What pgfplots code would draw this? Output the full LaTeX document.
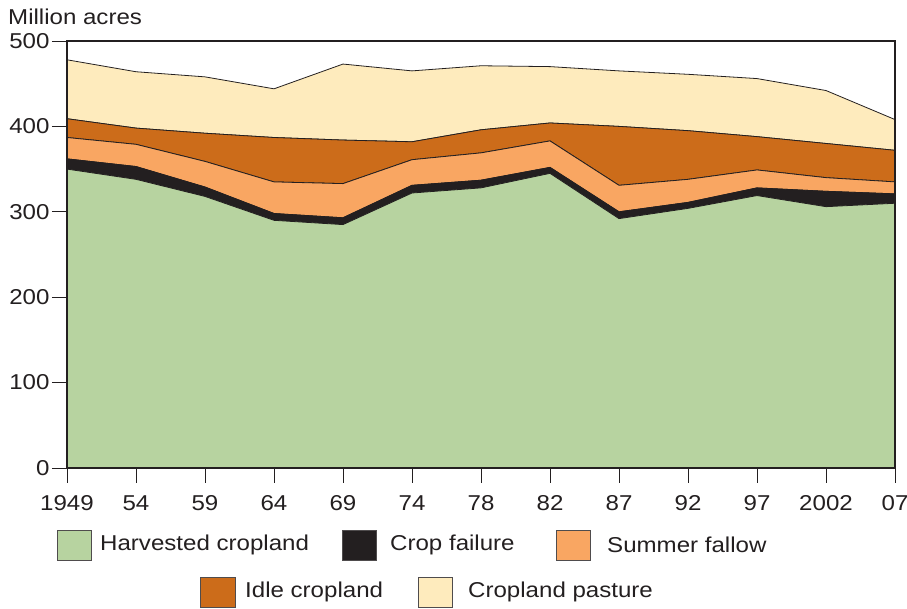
\documentclass[border=0pt]{standalone}
\usepackage{fontspec}
\setmainfont{Liberation Sans}[FakeStretch=1.12]
\usepackage{pgfplots}
\usepackage{pgfplotstable}
\pgfplotsset{compat=1.18}
\definecolor{harv}{HTML}{B7D3A0}
\definecolor{fail}{HTML}{231F20}
\definecolor{fallow}{HTML}{F9A662}
\definecolor{idle}{HTML}{CC6C1A}
\definecolor{past}{HTML}{FEEBBD}
\definecolor{axc}{HTML}{231F20}
\pgfplotstableread{
x H F S I P
0 350 12 25 22 69
1 338 15 26 19 66
2 318 11 30 33 66
3 290 8 37 52 57
4 285 8 40 51 89
5 322 9 30 21 83
6 328 9 32 27 75
7 345 7 31 21 66
8 292 8 31 69 65
9 304 7 27 57 66
10 319 9 21 39 68
11 306 18 16 40 62
12 310 11 14 37 36
}\data
\begin{document}
\begin{tikzpicture}[font=\fontsize{21.5}{25}\selectfont]
\useasboundingbox (-67pt,-141pt) rectangle (840pt,468pt);
\begin{axis}[
  at={(0pt,0pt)}, anchor=south west,
  scale only axis, width=828pt, height=427pt,
  xmin=0, xmax=12, ymin=0, ymax=500,
  stack plots=y,
  xtick={0,...,12},
  xticklabels={1949,54,59,64,69,74,78,82,87,92,97,2002,07},
  ytick={0,100,200,300,400,500},
  xtick pos=bottom, ytick pos=left,
  tick align=outside,
  major tick length=15pt,
  tick style={axc, line width=0.9pt},
  axis line style={axc, line width=2pt},
  axis on top,
  /pgf/number format/assume math mode=true,
  tick label style={font=\fontsize{21.5}{25}\selectfont, text=axc},
  yticklabel style={xshift=1pt},
  xticklabel style={yshift=-9pt},
]
\addplot[fill=harv, draw=axc, line width=0.8pt] table[x=x,y=H]{\data} \closedcycle;
\addplot[fill=fail, draw=axc, line width=0.8pt] table[x=x,y=F]{\data} \closedcycle;
\addplot[fill=fallow, draw=axc, line width=0.8pt] table[x=x,y=S]{\data} \closedcycle;
\addplot[fill=idle, draw=axc, line width=0.8pt] table[x=x,y=I]{\data} \closedcycle;
\addplot[fill=past, draw=axc, line width=0.8pt] table[x=x,y=P]{\data} \closedcycle;
\end{axis}
\node[anchor=base west, inner sep=0pt, text=axc] at (-59pt,443pt) {Million acres};
% legend
\begin{scope}[every node/.style={anchor=west, inner sep=0pt, text=axc}]
\filldraw[fill=harv, draw=axc!80, line width=0.8pt] (-10pt,-92pt) rectangle (24pt,-62pt);
\node at (33pt,-77pt) {Harvested cropland};
\filldraw[fill=fail, draw=axc!80, line width=0.8pt] (275pt,-92pt) rectangle (309pt,-62pt);
\node at (323pt,-77pt) {Crop failure};
\filldraw[fill=fallow, draw=axc!80, line width=0.8pt] (489pt,-92pt) rectangle (523pt,-62pt);
\node at (540pt,-77pt) {Summer fallow};
\filldraw[fill=idle, draw=axc!80, line width=0.8pt] (133pt,-139pt) rectangle (168pt,-109pt);
\node at (178pt,-124pt) {Idle cropland};
\filldraw[fill=past, draw=axc!80, line width=0.8pt] (351pt,-139pt) rectangle (385pt,-109pt);
\node at (401pt,-124pt) {Cropland pasture};
\end{scope}
\end{tikzpicture}
\end{document}
